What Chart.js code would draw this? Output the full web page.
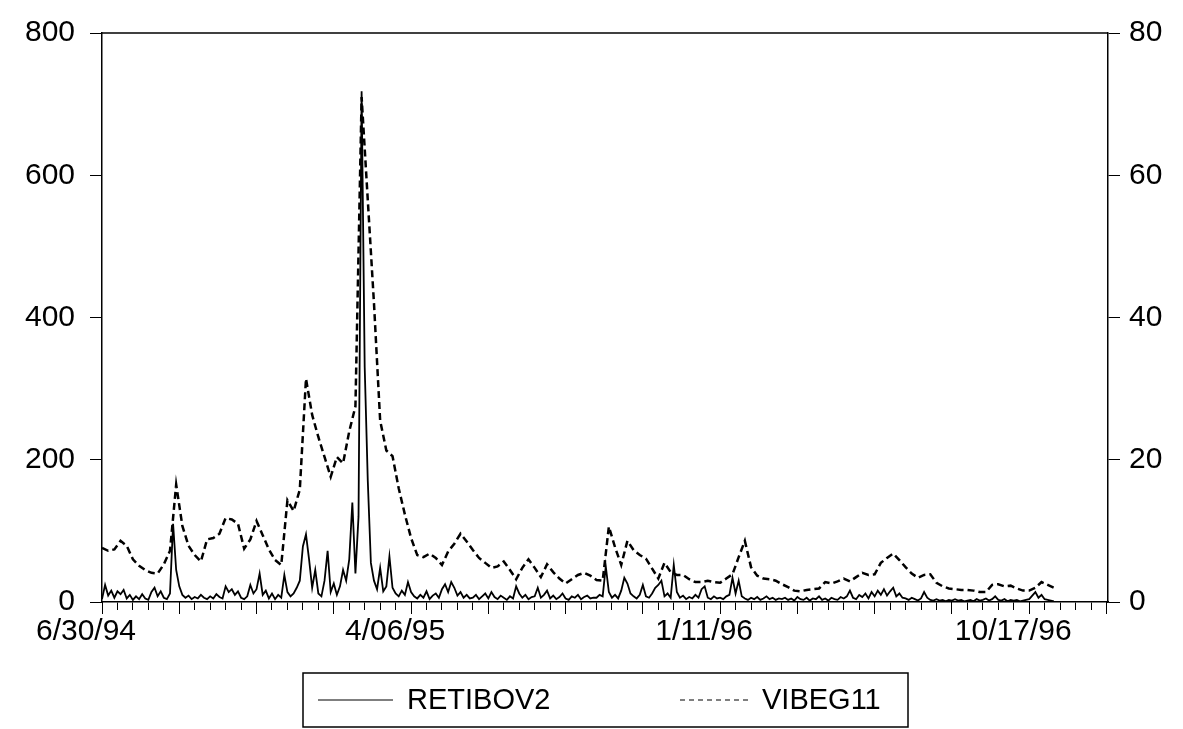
<!DOCTYPE html>
<html>
<head>
<meta charset="utf-8">
<script src="https://cdn.jsdelivr.net/npm/chart.js@4.4.1/dist/chart.umd.min.js"></script>
<style>
  html, body { margin: 0; padding: 0; background: #fff; }
</style>
</head>
<body>
<canvas id="chart" width="1183" height="729"></canvas>
<script>
// business-day observation numbers; 6/30/94 is obs 0
const tickObs = [0, 200, 400, 600];
const tickLabels = ["6/30/94", "4/06/95", "1/11/96", "10/17/96"];
const lastAxisObs = 651;

// RETIBOV2 (left axis), every 2nd observation
const retStep = 2;
const retibov2 = [
  4, 24, 9, 16, 6, 15, 11, 17, 5, 10, 3, 8, 4, 11, 5, 3, 14, 20, 8, 15,
  6, 4, 12, 110, 45, 22, 10, 6, 9, 4, 7, 5, 10, 6, 4, 8, 5, 11, 7, 5,
  22, 14, 18, 10, 15, 6, 4, 8, 24, 12, 18, 40, 10, 16, 5, 12, 4, 10, 6, 38,
  14, 8, 12, 20, 30, 78, 95, 60, 20, 45, 12, 8, 30, 72, 14, 26, 10, 22, 45, 30,
  60, 140, 40, 120, 718, 330, 170, 55, 30, 18, 48, 15, 22, 64, 20, 12, 8, 16, 10, 28,
  14, 8, 5, 10, 6, 15, 4, 9, 12, 6, 18, 25, 14, 28, 20, 9, 14, 6, 10, 5,
  6, 10, 4, 8, 12, 5, 14, 7, 4, 9, 6, 3, 8, 5, 22, 12, 6, 10, 4, 7,
  8, 20, 6, 10, 16, 5, 9, 4, 7, 12, 5, 3, 8, 6, 10, 4, 7, 9, 5, 6,
  6, 10, 8, 50, 14, 6, 10, 5, 16, 34, 26, 12, 8, 5, 10, 24, 8, 6, 12, 20,
  24, 30, 8, 12, 6, 52, 14, 6, 9, 4, 7, 5, 10, 6, 18, 22, 6, 4, 8, 5,
  6, 4, 8, 10, 34, 12, 30, 8, 5, 3, 6, 4, 7, 3, 5, 8, 4, 6, 3, 5,
  4, 6, 3, 5, 2, 7, 4, 3, 6, 2, 5, 4, 8, 3, 5, 2, 6, 4, 3, 7,
  5, 8, 16, 6, 4, 10, 7, 12, 5, 14, 8, 16, 10, 18, 9, 15, 20, 8, 12, 6,
  5, 3, 6, 4, 2, 5, 14, 6, 3, 2, 4, 2, 3, 1, 3, 2, 4, 2, 3, 1,
  2, 3, 1, 4, 2, 3, 5, 2, 4, 8, 3, 2, 4, 1, 3, 2, 3, 1, 2, 3,
  4, 9, 14, 6, 10, 4, 3, 2, 1
];

// VIBEG11 (right axis), every 4th observation
const vibStep = 4;
const vibeg11 = [
  7.6, 7.2, 7.4, 8.6, 7.9, 6.0, 5.1, 4.5, 4.1, 4.0,
  5.3, 7.2, 16.5, 10.7, 7.9, 6.6, 5.7, 8.8, 9.0, 9.6,
  11.8, 11.6, 11.0, 7.5, 8.8, 11.4, 9.4, 7.4, 5.9, 5.2,
  14.3, 12.8, 15.8, 31.4, 26.3, 23.2, 20.4, 17.6, 20.4, 19.5,
  24.0, 27.5, 71.0, 56.5, 42.0, 25.5, 21.3, 20.5, 16.0, 12.3,
  9.0, 6.6, 6.3, 6.8, 6.2, 5.2, 7.1, 8.2, 9.6, 8.5,
  7.3, 6.2, 5.5, 4.8, 5.0, 5.7, 4.5, 3.2, 4.8, 6.0,
  4.8, 3.5, 5.3, 4.2, 3.3, 2.6, 3.2, 3.8, 4.1, 3.7,
  3.1, 3.0, 10.6, 7.7, 5.2, 8.6, 7.3, 6.6, 6.1, 4.7,
  3.3, 5.5, 4.2, 3.8, 3.8, 3.2, 2.8, 2.8, 3.0, 2.8,
  2.7, 3.3, 3.9, 6.3, 8.6, 4.9, 3.7, 3.3, 3.2, 3.0,
  2.5, 2.1, 1.6, 1.5, 1.7, 1.8, 1.9, 2.8, 2.6, 2.9,
  3.3, 2.9, 3.5, 4.1, 3.8, 3.9, 5.5, 6.2, 6.8, 5.9,
  4.9, 4.0, 3.4, 3.8, 3.9, 2.7, 2.2, 1.9, 1.8, 1.7,
  1.7, 1.6, 1.4, 1.4, 2.4, 2.5, 2.2, 2.3, 1.9, 1.6,
  1.6, 2.0, 2.8, 2.4, 2.0
];

const toPoints = (vals, step) => vals.map((v, k) => ({ x: k * step, y: v }));
const everyObs = (step) => {
  const t = [];
  for (let v = 0; v <= lastAxisObs; v += step) t.push({ value: v });
  return t;
};

const font = { family: "'Liberation Sans', Arial, sans-serif", size: 30 };
Chart.defaults.font.family = font.family;
Chart.defaults.color = "#000";

// frame line across the top of the plot
const topFrame = {
  id: "topFrame",
  afterDraw(chart) {
    const { ctx, chartArea: a } = chart;
    ctx.save();
    ctx.strokeStyle = "#000";
    ctx.lineWidth = 1.5;
    ctx.beginPath();
    ctx.moveTo(a.left, a.top);
    ctx.lineTo(a.right, a.top);
    ctx.stroke();
    ctx.restore();
  }
};

// boxed legend under the x axis
const legendBox = {
  id: "legendBox",
  afterDraw(chart) {
    const ctx = chart.ctx;
    const box = { x: 303, y: 673, w: 605, h: 54 };
    const cy = box.y + box.h / 2;
    ctx.save();
    ctx.strokeStyle = "#000";
    ctx.lineWidth = 1.5;
    ctx.strokeRect(box.x, box.y, box.w, box.h);
    ctx.font = "29px " + font.family;
    ctx.fillStyle = "#000";
    ctx.textBaseline = "middle";
    const items = [
      { ds: chart.data.datasets[0], x0: 318, x1: 393, tx: 407 },
      { ds: chart.data.datasets[1], x0: 680, x1: 750, tx: 762 }
    ];
    items.forEach(it => {
      ctx.lineWidth = 1.2;
      ctx.setLineDash(it.ds.borderDash ? [5, 4] : []);
      ctx.beginPath();
      ctx.moveTo(it.x0, cy);
      ctx.lineTo(it.x1, cy);
      ctx.stroke();
      ctx.setLineDash([]);
      ctx.fillText(it.ds.label, it.tx, cy + 1);
    });
    ctx.restore();
  }
};

new Chart(document.getElementById("chart"), {
  type: "line",
  data: {
    datasets: [
      {
        label: "RETIBOV2",
        data: toPoints(retibov2, retStep),
        yAxisID: "y",
        borderColor: "#000",
        borderWidth: 1.8,
        pointRadius: 0,
        tension: 0
      },
      {
        label: "VIBEG11",
        data: toPoints(vibeg11, vibStep),
        yAxisID: "y1",
        borderColor: "#000",
        borderWidth: 2.5,
        borderDash: [7, 4],
        pointRadius: 0,
        tension: 0
      }
    ]
  },
  options: {
    responsive: false,
    animation: false,
    layout: { padding: { top: 27, left: 0, right: 0, bottom: 0 } },
    plugins: { legend: { display: false }, tooltip: { enabled: false } },
    scales: {
      // longer marks every 50 observations, no labels
      xMajor: {
        type: "linear",
        position: "bottom",
        weight: 0,
        min: 0,
        max: lastAxisObs,
        afterBuildTicks: s => { s.ticks = everyObs(50); },
        afterFit: s => { s.height = 0; },
        border: { display: false },
        grid: { drawOnChartArea: false, tickLength: 12, tickWidth: 1, tickColor: "#000" },
        ticks: { display: false }
      },
      x: {
        type: "linear",
        position: "bottom",
        weight: 1,
        min: 0,
        max: lastAxisObs,
        afterBuildTicks: s => { s.ticks = everyObs(10); },
        afterFit: s => { s.height = 127; },
        border: { color: "#000", width: 1.5 },
        grid: { drawOnChartArea: false, tickLength: 8, tickWidth: 1, tickColor: "#000" },
        ticks: {
          autoSkip: false,
          maxRotation: 0,
          minRotation: 0,
          padding: 4,
          labelOffset: -16,
          color: "#000",
          font: font,
          callback: v => {
            const i = tickObs.indexOf(v);
            return i >= 0 ? tickLabels[i] : "";
          }
        }
      },
      y: {
        position: "left",
        min: 0,
        max: 800,
        afterFit: s => { s.width = 102; },
        border: { color: "#000", width: 1.5 },
        grid: { drawOnChartArea: false, tickLength: 12, tickColor: "#000" },
        ticks: { stepSize: 200, padding: 15, color: "#000", font: font }
      },
      y1: {
        position: "right",
        min: 0,
        max: 80,
        afterFit: s => { s.width = 75; },
        border: { color: "#000", width: 1.5 },
        grid: { drawOnChartArea: false, tickLength: 12, tickColor: "#000" },
        ticks: { stepSize: 20, padding: 9, color: "#000", font: font }
      }
    }
  },
  plugins: [topFrame, legendBox]
});
</script>
</body>
</html>
